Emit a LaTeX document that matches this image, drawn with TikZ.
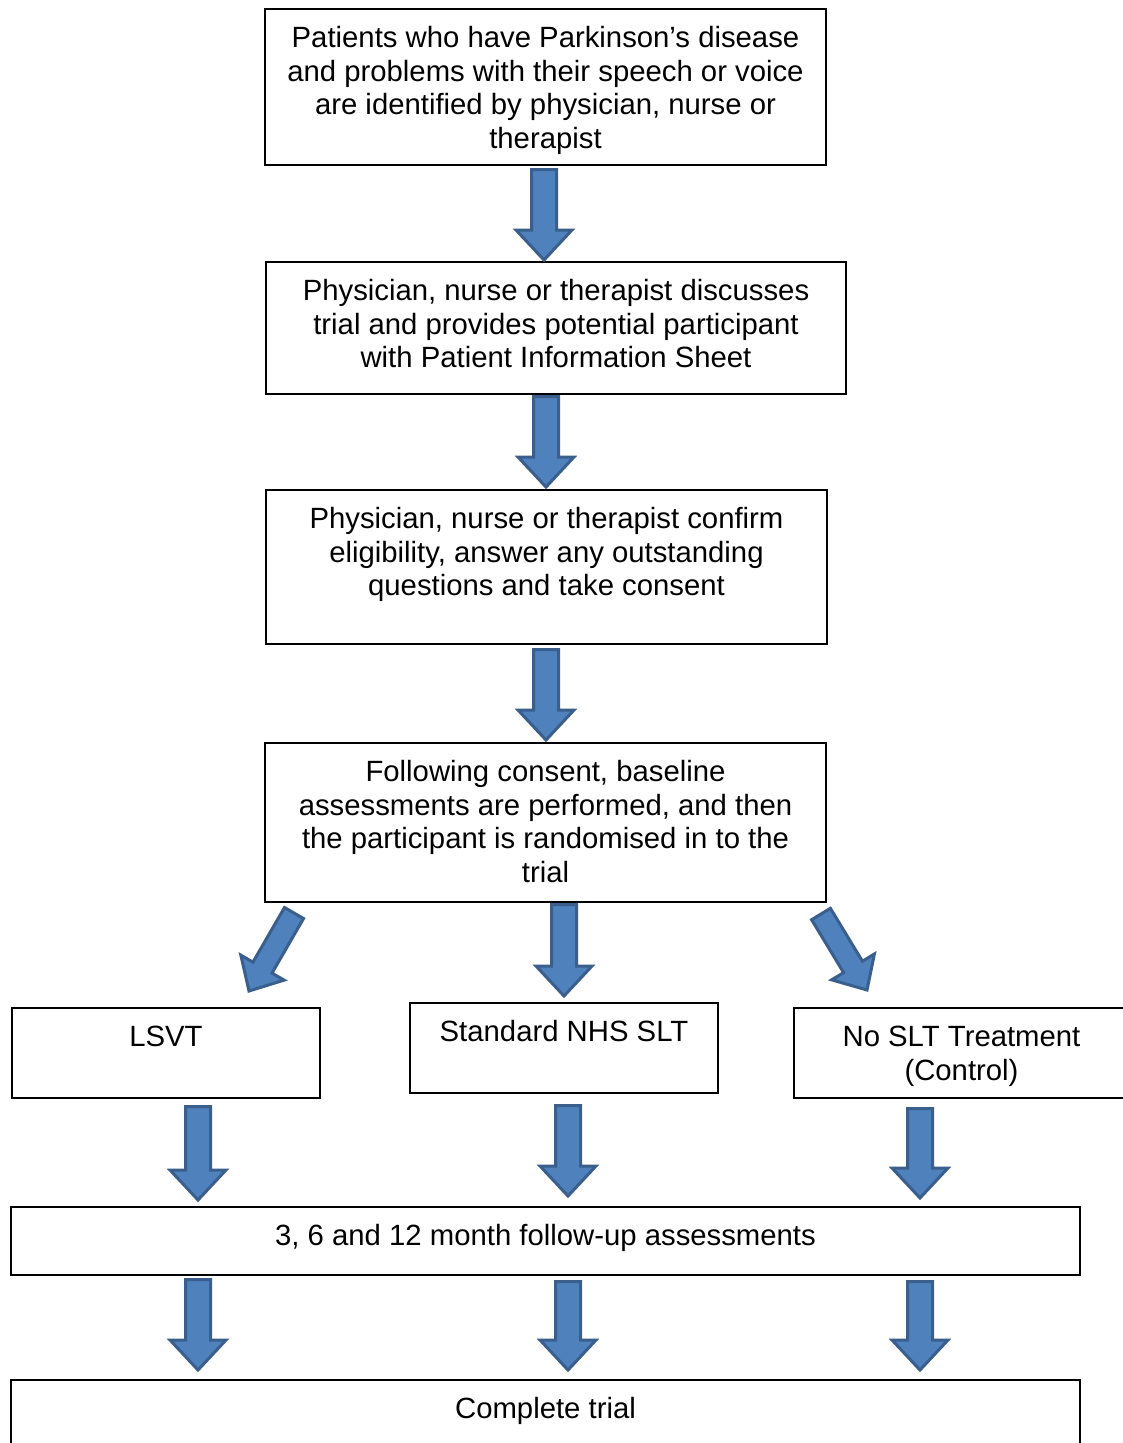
\documentclass[tikz,border=0pt]{standalone}
\usepackage{fontspec}
\setmainfont{Liberation Sans}
\usetikzlibrary{calc}
\definecolor{arrfill}{HTML}{4F81BD}
\definecolor{arrline}{HTML}{3A5F8D}
% block arrow: #1 tail, #2 tip, #3 half shaft width, #4 half head width, #5 head length
\newcommand\blkarrow[5]{%
  \path ($(#2)!#5pt!(#1)$) coordinate (hb);
  \filldraw[blkarr] ($(#1)!#3pt!90:(#2)$) -- ($(hb)!#3pt!90:(#2)$) -- ($(hb)!#4pt!90:(#2)$) -- (#2)
    -- ($(hb)!#4pt!-90:(#2)$) -- ($(hb)!#3pt!-90:(#2)$) -- ($(#1)!#3pt!-90:(#2)$) -- cycle;
}
\newcommand\boxtxt[3]{\parbox[c][#2pt][t]{#1pt}{\centering\fontsize{29.3pt}{33.7pt}\selectfont\rule{0pt}{38.5pt}#3\par}}
\begin{document}
\begin{tikzpicture}[x=1pt,y=-1pt,
  box/.style={draw=black, line width=1.3pt, inner sep=0pt, outer sep=0pt, anchor=north west},
  blkarr/.style={fill=arrfill, draw=arrline, line width=3pt, line join=miter}]
\useasboundingbox (0,0) rectangle (1123,1443);
\clip (0,0) rectangle (1123,1443);
\fill[white] (0,0) rectangle (1123,1443);

\node[box] (b1) at (265,9) {\boxtxt{561}{156}{Patients who have Parkinson’s disease\\ and problems with their speech or voice\\ are identified by physician, nurse or\\ therapist}};
\node[box] (b2) at (266,262) {\boxtxt{580}{132}{Physician, nurse or therapist discusses\\ trial and provides potential participant\\ with Patient Information Sheet}};
\node[box] (b3) at (266,490) {\boxtxt{561}{154}{Physician, nurse or therapist confirm\\ eligibility, answer any outstanding\\ questions and take consent}};
\node[box] (b4) at (265,743) {\boxtxt{561}{159}{Following consent, baseline\\ assessments are performed, and then\\ the participant is randomised in to the\\ trial}};
\node[box] (lsvt) at (12,1008) {\boxtxt{308}{90}{LSVT}};
\node[box] (nhs) at (410,1003) {\boxtxt{308}{90}{Standard NHS SLT}};
\node[box] (ctrl) at (794,1008) {\boxtxt{335}{90}{No SLT Treatment\\ (Control)}};
\node[box] (fu) at (11,1207) {\boxtxt{1069}{68}{3, 6 and 12 month follow-up assessments}};
\node[box] (done) at (11,1380) {\boxtxt{1069}{90}{Complete trial}};

% arrow end points
\coordinate (a1t) at (544,169.5); \coordinate (a1h) at (544,260);
\coordinate (a2t) at (546,396.5); \coordinate (a2h) at (546,487);
\coordinate (a3t) at (546,649.5); \coordinate (a3h) at (546,740);
\coordinate (a4t) at (564,904.5); \coordinate (a4h) at (564,996);
\coordinate (a5t) at (294,913); \coordinate (a5h) at (249,991);
\coordinate (a6t) at (821,914); \coordinate (a6h) at (867,990);
\coordinate (a7t) at (198,1106.5); \coordinate (a7h) at (198,1200);
\coordinate (a8t) at (568,1105.5); \coordinate (a8h) at (568,1196);
\coordinate (a9t) at (920,1108.5); \coordinate (a9h) at (920,1198);
\coordinate (a10t) at (198,1279.5); \coordinate (a10h) at (198,1370);
\coordinate (a11t) at (568,1281.5); \coordinate (a11h) at (568,1370);
\coordinate (a12t) at (920,1281.5); \coordinate (a12h) at (920,1370);

\blkarrow{a1t}{a1h}{12.5}{28}{30}
\blkarrow{a2t}{a2h}{12.5}{28}{30}
\blkarrow{a3t}{a3h}{12.5}{28}{30}
\blkarrow{a4t}{a4h}{12.5}{28}{30}
\blkarrow{a5t}{a5h}{11}{25}{27}
\blkarrow{a6t}{a6h}{11}{25}{27}
\blkarrow{a7t}{a7h}{12.5}{28}{30}
\blkarrow{a8t}{a8h}{12.5}{28}{30}
\blkarrow{a9t}{a9h}{12.5}{28}{30}
\blkarrow{a10t}{a10h}{12.5}{28}{30}
\blkarrow{a11t}{a11h}{12.5}{28}{30}
\blkarrow{a12t}{a12h}{12.5}{28}{30}
\end{tikzpicture}
\end{document}
